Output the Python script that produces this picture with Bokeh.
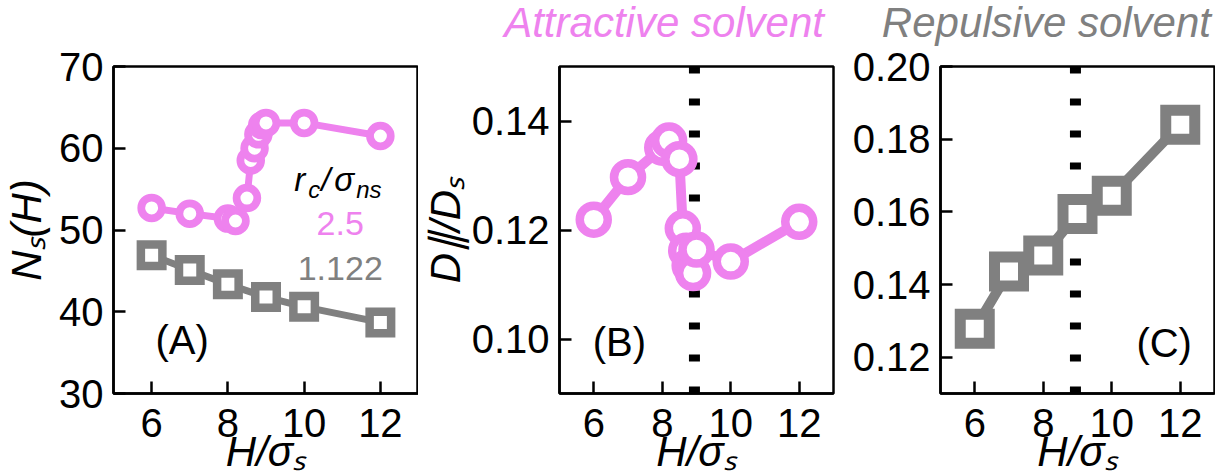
from bokeh.plotting import figure
from bokeh.models import Label, Span, FixedTicker, PrintfTickFormatter, Div
from bokeh.layouts import row, column
from bokeh.embed import file_html
from bokeh.resources import INLINE

PINK = "#EE82EE"
GRAY = "#808080"
FONT = "Liberation Sans"

# ---- data ----
H_att = [6, 7, 8, 8.2, 8.5, 8.6, 8.7, 8.8, 8.9, 9, 10, 12]
Ns_att = [52.7, 52.0, 51.4, 51.1, 53.9, 58.5, 60.0, 61.7, 62.8, 63.1, 63.1, 61.5]
D_att = [0.1219, 0.1297, 0.1351, 0.1364, 0.1330, 0.1203, 0.1162, 0.1135, 0.1121, 0.1164, 0.1142, 0.1215]

H_rep = [6, 7, 8, 9, 10, 12]
Ns_rep = [46.9, 45.1, 43.35, 41.8, 40.6, 38.7]
D_rep = [0.1278, 0.1436, 0.1480, 0.1594, 0.1644, 0.1840]

H_transition = 8.94
x_ticks = [6, 8, 10, 12]
ns_ticks = [30, 40, 50, 60, 70]
d_att_ticks = [0.10, 0.12, 0.14]
d_rep_ticks = [0.12, 0.14, 0.16, 0.18, 0.20]
x_label = "H/σₛ"
yA_label = "Nₛ(H)"
yB_label = "D∥/Dₛ"
legend_title = ("r", "c", "/", "σ", "ns")
legend_values = ["2.5", "1.122"]
panel_tags = ["(A)", "(B)", "(C)"]
titles = ["Attractive solvent", "Repulsive solvent"]

TOP = 42  # height of the title strip above the plots


def make_fig(fw, left, right, yr, yticks, fmt, ylab=None, ystand=6):
    p = figure(frame_width=fw, frame_height=327, min_border_left=left,
               min_border_right=right, min_border_top=66 - TOP,
               min_border_bottom=81,
               x_range=(5, 13), y_range=yr, output_backend="svg",
               toolbar_location=None)
    p.xgrid.grid_line_color = None
    p.ygrid.grid_line_color = None
    p.outline_line_color = "black"
    p.outline_line_width = 2.5
    p.outline_line_alpha = 1
    p.background_fill_color = "white"
    p.border_fill_alpha = 0
    p.xaxis.ticker = FixedTicker(ticks=x_ticks)
    p.yaxis.ticker = FixedTicker(ticks=yticks)
    p.yaxis.formatter = PrintfTickFormatter(format=fmt)
    for ax in (p.xaxis[0], p.yaxis[0]):
        ax.axis_line_width = 2.5
        ax.axis_line_color = "black"
        ax.major_tick_in = 12
        ax.major_tick_out = 0
        ax.major_tick_line_width = 2.5
        ax.major_tick_line_color = "black"
        ax.minor_tick_line_color = None
        ax.major_label_text_font = FONT
        ax.major_label_text_font_size = "40px"
        ax.major_label_text_color = "black"
        ax.axis_label_text_font = FONT
        ax.axis_label_text_font_size = "42px"
        ax.axis_label_text_font_style = "italic"
        ax.axis_label_text_color = "black"
    p.xaxis.major_label_standoff = 15
    p.yaxis.major_label_standoff = 10
    p.xaxis.axis_label = x_label
    p.xaxis.axis_label_standoff = -12
    if ylab:
        p.yaxis.axis_label = ylab
        p.yaxis.axis_label_standoff = ystand
    return p


def lab(p, text, x, y, xo, yo, size, color="black", italic=False, align="left"):
    # anchor given at the text baseline; converted to the box middle
    p.add_layout(Label(x=x, y=y, x_offset=xo, y_offset=yo + 0.3465 * size,
                       text=text, text_font=FONT, text_font_size=f"{size}px",
                       text_color=color,
                       text_font_style="italic" if italic else "normal",
                       text_align=align, text_baseline="middle"))


# ---------------- Panel A ----------------
pA = make_fig(305, 113, 0, (30, 70), ns_ticks, "%d", ylab=yA_label, ystand=6)
pA.line(H_att, Ns_att, line_color=PINK, line_width=7, line_join="round")
pA.scatter(H_att, Ns_att, marker="circle", size=20.75, line_width=7.75,
           line_color=PINK, fill_color="white")
pA.line(H_rep, Ns_rep, line_color=GRAY, line_width=7, line_join="round")
pA.scatter(H_rep, Ns_rep, marker="square", size=21.5, line_width=8.5,
           line_color=GRAY, fill_color="white", line_join="miter")
lab(pA, legend_title[0], 11, 55, -48, -2, 33, italic=True)
lab(pA, legend_title[1], 11, 55, -34, -9, 24, italic=True)
lab(pA, legend_title[2], 11, 55, -21, -2, 33, italic=True)
lab(pA, legend_title[3], 11, 55, -8, -2, 33, italic=True)
lab(pA, legend_title[4], 11, 55, 14, -9, 24, italic=True)
lab(pA, legend_values[0], 11, 49.3, -2, 0, 34, color=PINK, align="center")
lab(pA, legend_values[1], 11, 43.8, -2, 0, 34, color=GRAY, align="center")
lab(pA, panel_tags[0], 6.1, 34.9, 0, 0, 40)

# ---------------- Panel B ----------------
pB = make_fig(274, 140, 5, (0.09, 0.15), d_att_ticks, "%.2f", ylab=yB_label,
              ystand=0)
pB.add_layout(Span(location=H_transition, dimension="height", line_color="black",
                   line_width=11, line_dash="7 25", level="underlay"))
pB.line(H_att, D_att, line_color=PINK, line_width=10, line_join="round")
pB.scatter(H_att, D_att, marker="circle", size=28, line_width=8.5,
           line_color=PINK, fill_color="white")
lab(pB, panel_tags[1], 5.97, 0.0969, 0, 0, 40)

# ---------------- Panel C ----------------
pC = make_fig(274, 102, 2, (0.11, 0.20), d_rep_ticks, "%.2f")
pC.add_layout(Span(location=H_transition, dimension="height", line_color="black",
                   line_width=11, line_dash="7 25", level="underlay"))
pC.line(H_rep, D_rep, line_color=GRAY, line_width=10, line_join="round")
pC.scatter(H_rep, D_rep, marker="square", size=29, line_width=11,
           line_color=GRAY, fill_color="white", line_join="miter")
lab(pC, panel_tags[2], 10.72, 0.12, 0, 0, 40)

span_style = (f"position:absolute;top:0;margin:0;padding:0;white-space:nowrap;"
              f"font-family:'{FONT}';font-size:42px;font-style:italic;"
              f"line-height:45px;")
header_html = (
    f'<div style="position:relative;width:1215px;height:{TOP}px;margin:0;padding:0;">'
    f'<span style="{span_style}right:391px;color:{PINK};">{titles[0]}</span>'
    f'<span style="{span_style}right:4px;color:{GRAY};">{titles[1]}</span>'
    f'</div>')
header = Div(text=header_html, width=1215, height=TOP, margin=(0, 0, 0, 0))

layout = column(header, row(pA, pB, pC))
open("out.html", "w").write(file_html(layout, INLINE))
